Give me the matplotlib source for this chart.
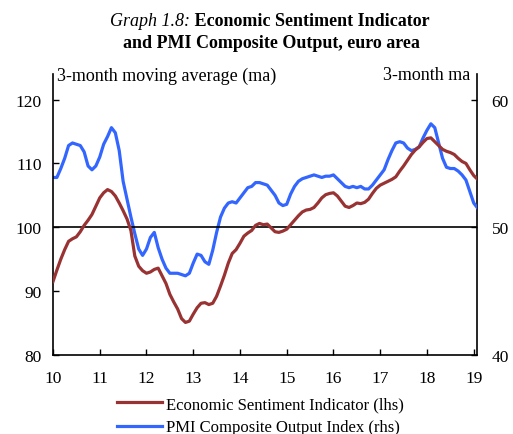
import matplotlib
matplotlib.use("Agg")
import matplotlib.pyplot as plt
import numpy as np

# Monthly data, Jan 2010 onwards
esi = [91.5, 93.3, 95.0, 96.5, 97.8, 98.2, 98.5, 99.3, 100.3, 101.1, 102.0, 103.3,
       104.6, 105.4, 105.9, 105.6, 104.9, 103.8, 102.6, 101.3, 99.5, 95.5, 93.9, 93.2,
       92.8, 93.0, 93.4, 93.6, 92.4, 91.2, 89.5, 88.3, 87.2, 85.7, 85.1, 85.3,
       86.4, 87.4, 88.1, 88.2, 87.9, 88.1, 89.2, 90.8, 92.5, 94.4, 95.9, 96.5,
       97.5, 98.6, 99.1, 99.5, 100.3, 100.6, 100.4, 100.5, 99.9, 99.3, 99.2, 99.4,
       99.7, 100.4, 101.1, 101.8, 102.4, 102.7, 102.8, 103.1, 103.8, 104.6, 105.1, 105.3,
       105.4, 104.9, 104.1, 103.3, 103.1, 103.4, 103.8, 103.7, 103.9, 104.4, 105.3, 106.1,
       106.6, 106.9, 107.2, 107.5, 107.9, 108.8, 109.6, 110.5, 111.4, 112.1, 112.6, 113.3,
       113.9, 114.0, 113.4, 112.8, 112.2, 111.9, 111.7, 111.4, 110.8, 110.3, 110.0, 109.0,
       108.1, 107.5]
pmi = [53.9, 53.9, 54.6, 55.4, 56.4, 56.6, 56.5, 56.4, 55.9, 54.8, 54.5, 54.8,
       55.5, 56.5, 57.1, 57.8, 57.4, 56.0, 53.6, 52.2, 50.8, 49.5, 48.3, 47.8,
       48.3, 49.2, 49.6, 48.4, 47.5, 46.8, 46.4, 46.4, 46.4, 46.3, 46.2, 46.4,
       47.2, 47.9, 47.8, 47.3, 47.1, 48.2, 49.6, 50.8, 51.5, 51.9, 52.0, 51.9,
       52.3, 52.7, 53.1, 53.2, 53.5, 53.5, 53.4, 53.3, 52.9, 52.5, 51.9, 51.7,
       51.8, 52.6, 53.2, 53.6, 53.8, 53.9, 54.0, 54.1, 54.0, 53.9, 54.0, 54.0,
       54.1, 53.8, 53.5, 53.2, 53.1, 53.2, 53.1, 53.2, 53.0, 53.0, 53.3, 53.7,
       54.1, 54.5, 55.3, 56.0, 56.6, 56.7, 56.6, 56.2, 56.0, 56.1, 56.3, 57.0,
       57.6, 58.1, 57.8, 56.6, 55.4, 54.7, 54.6, 54.6, 54.4, 54.1, 53.7, 52.8,
       51.9, 51.5]
start_year = 10
year_ticks = [10, 11, 12, 13, 14, 15, 16, 17, 18, 19]
year_labels = ["10", "11", "12", "13", "14", "15", "16", "17", "18", "19"]
lhs_ticks = [80, 90, 100, 110, 120]
rhs_ticks = [40, 50, 60]

plt.rcParams['font.family'] = ['Liberation Serif', 'DejaVu Serif']

RED = "#993333"
BLUE = "#3366ff"

fig = plt.figure(figsize=(5.13, 4.35), dpi=100)
ax = fig.add_axes([53/513, 1-356/435, (477-53)/513, (356-75)/435])
ax2 = ax.twinx()

x = start_year + np.arange(len(esi)) / 12.0

l2, = ax2.plot(x, pmi, color=BLUE, lw=2.3, solid_joinstyle='round', zorder=3)
l1, = ax.plot(x, esi, color=RED, lw=2.3, solid_joinstyle='round', zorder=3)
ax.set_zorder(ax2.get_zorder() + 1)
ax.patch.set_visible(False)
ax.axhline(100, color='black', lw=1.2, zorder=2)

ax.set_xlim(10, 19.07)
ax.set_ylim(80, 124)
ax2.set_ylim(40, 62)
ax.set_xticks(year_ticks)
ax.set_xticklabels(year_labels)
ax.set_yticks(lhs_ticks)
ax2.set_yticks(rhs_ticks)

for a in (ax, ax2):
    a.spines['top'].set_visible(False)
    for s in a.spines.values():
        s.set_linewidth(1.2)
ax.spines['right'].set_visible(False)
ax2.spines['left'].set_visible(False)
ax2.spines['bottom'].set_visible(False)

ax.tick_params(axis='x', direction='in', length=4, width=1, pad=11, labelsize=12.5)
ax.tick_params(axis='y', direction='in', length=4, width=1, pad=8, labelsize=12.5)
ax2.tick_params(axis='y', direction='in', length=4, width=1, pad=10.5, labelsize=12.5)

fig.text(190/513, 1-22/435, "Graph 1.8:", ha='right', va='center', fontsize=13, style='italic')
fig.text(190/513, 1-22/435, " Economic Sentiment Indicator", ha='left', va='center', fontsize=13, weight='bold')
fig.text(271/513, 1-44/435, "and PMI Composite Output, euro area", ha='center', va='center', fontsize=13, weight='bold')

fig.text(57/513, 1-76/435, "3-month moving average (ma)", ha='left', va='center', fontsize=13)
fig.text(470/513, 1-76/435, "3-month ma", ha='right', va='center', fontsize=13)

fig.legend([l1, l2], ["Economic Sentiment Indicator (lhs)", "PMI Composite Output Index (rhs)"],
           loc='upper left', bbox_to_anchor=(117/513, 1-397/435), frameon=False,
           fontsize=12, handlelength=2.7, handletextpad=0.25, labelspacing=0.45,
           borderpad=0, borderaxespad=0)

fig.savefig("out.png", dpi=100)
